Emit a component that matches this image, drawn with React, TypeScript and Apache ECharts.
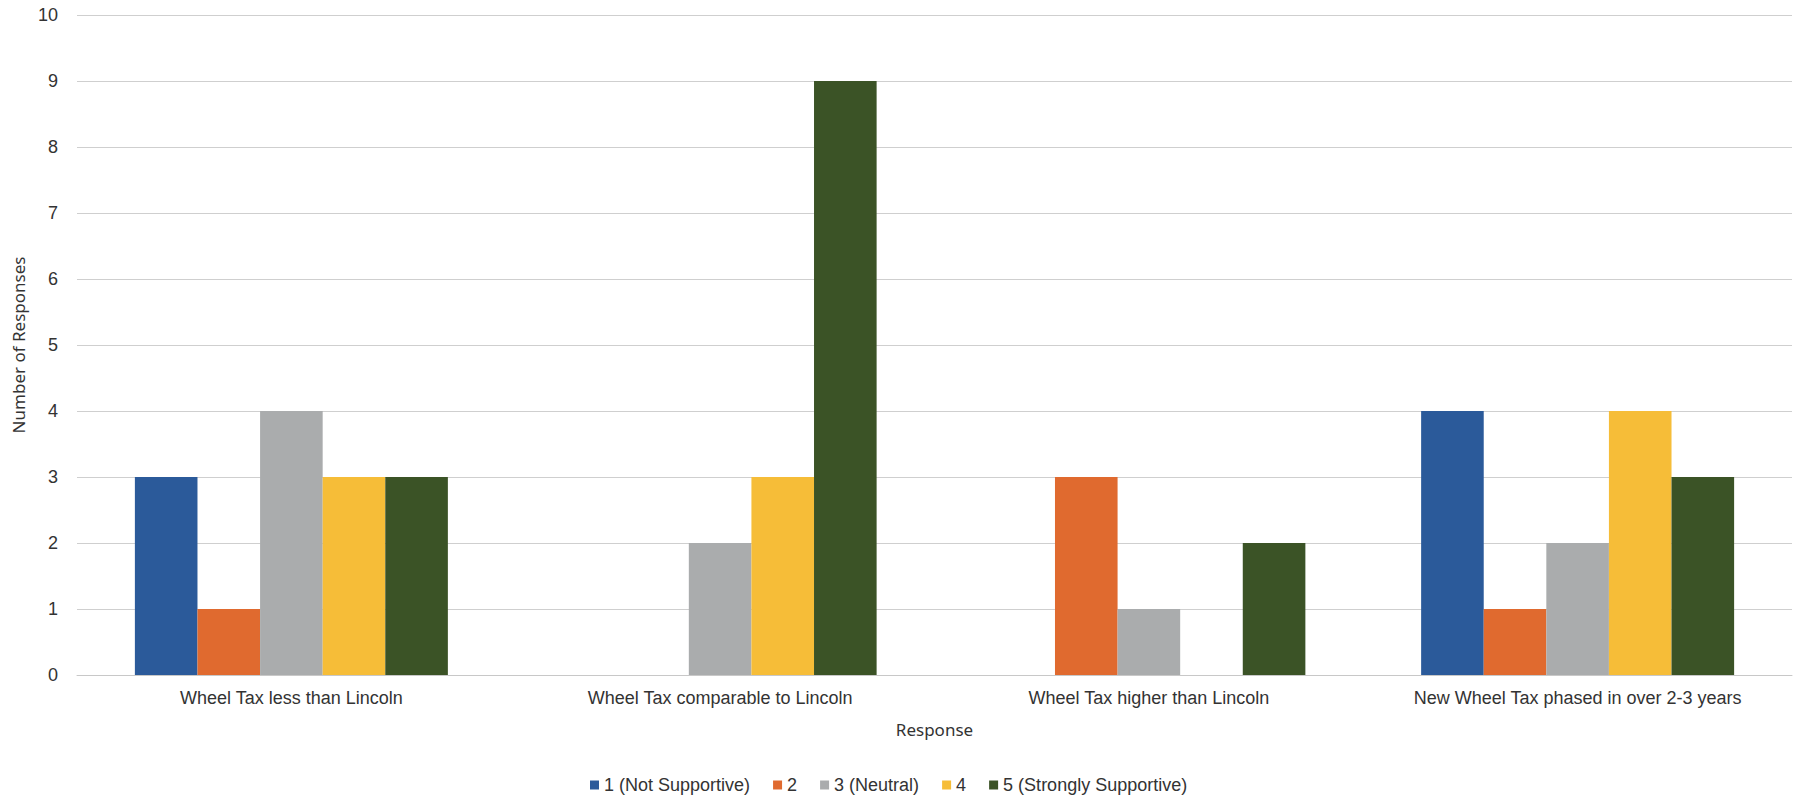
import React, { useEffect, useRef } from "react";
import * as echarts from "echarts";

const categories = [
  "Wheel Tax less than Lincoln",
  "Wheel Tax comparable to Lincoln",
  "Wheel Tax higher than Lincoln",
  "New Wheel Tax phased in over 2-3 years",
];
const seriesNames = [
  "1 (Not Supportive)",
  "2",
  "3 (Neutral)",
  "4",
  "5 (Strongly Supportive)",
];
const rating1 = [3, 0, 0, 4];
const rating2 = [1, 0, 3, 1];
const rating3 = [4, 2, 1, 2];
const rating4 = [3, 3, 0, 4];
const rating5 = [3, 9, 2, 3];
const seriesValues = [rating1, rating2, rating3, rating4, rating5];
const colors = ["#2B5A9A", "#E06A2F", "#AAACAD", "#F6BD38", "#3B5326"];
const yTicks = { min: 0, max: 10, interval: 1 };

export default function App() {
  const ref = useRef<HTMLDivElement>(null);
  useEffect(() => {
    if (!ref.current) return;
    const chart = echarts.init(ref.current, undefined, { renderer: "svg" });
    const font = "Arial, 'Liberation Sans', sans-serif";
    chart.setOption({
      animation: false,
      backgroundColor: "#ffffff",
      color: colors,
      grid: { left: 77, right: 15, top: 15, bottom: 126, containLabel: false },
      legend: {
        data: seriesNames,
        left: 585,
        top: 771,
        icon: "rect",
        itemWidth: 9,
        itemHeight: 9,
        itemGap: 23,
        textStyle: { fontFamily: font, fontSize: 18, color: "#333" },
      },
      xAxis: {
        type: "category",
        data: categories,
        axisTick: { show: false },
        axisLine: { show: true, lineStyle: { color: "#c8c8c8", width: 1 } },
        axisLabel: { fontFamily: font, fontSize: 18, color: "#333", margin: 14 },
        name: "Response",
        nameLocation: "middle",
        nameGap: 46,
        nameTextStyle: { fontFamily: "'Noto Sans', sans-serif", fontSize: 17, color: "#333" },
      },
      yAxis: {
        type: "value",
        min: yTicks.min,
        max: yTicks.max,
        interval: yTicks.interval,
        axisLine: { show: false },
        axisTick: { show: false },
        splitLine: { lineStyle: { color: "#cfcfcf", width: 1 } },
        axisLabel: { fontFamily: font, fontSize: 18, color: "#333", margin: 19 },
        name: "Number of Responses",
        nameLocation: "middle",
        nameRotate: 90,
        nameGap: 48,
        nameTextStyle: { fontFamily: "'Noto Sans', sans-serif", fontSize: 17, color: "#333" },
      },
      series: seriesNames.map((name, i) => ({
        name,
        type: "bar",
        data: seriesValues[i],
        barGap: "0%",
        barCategoryGap: "27%",
        itemStyle: { color: colors[i] },
      })),
    });
    return () => chart.dispose();
  }, []);
  return (
    <div
      ref={ref}
      style={{ position: "fixed", left: 0, top: 0, width: 1807, height: 801 }}
    />
  );
}
